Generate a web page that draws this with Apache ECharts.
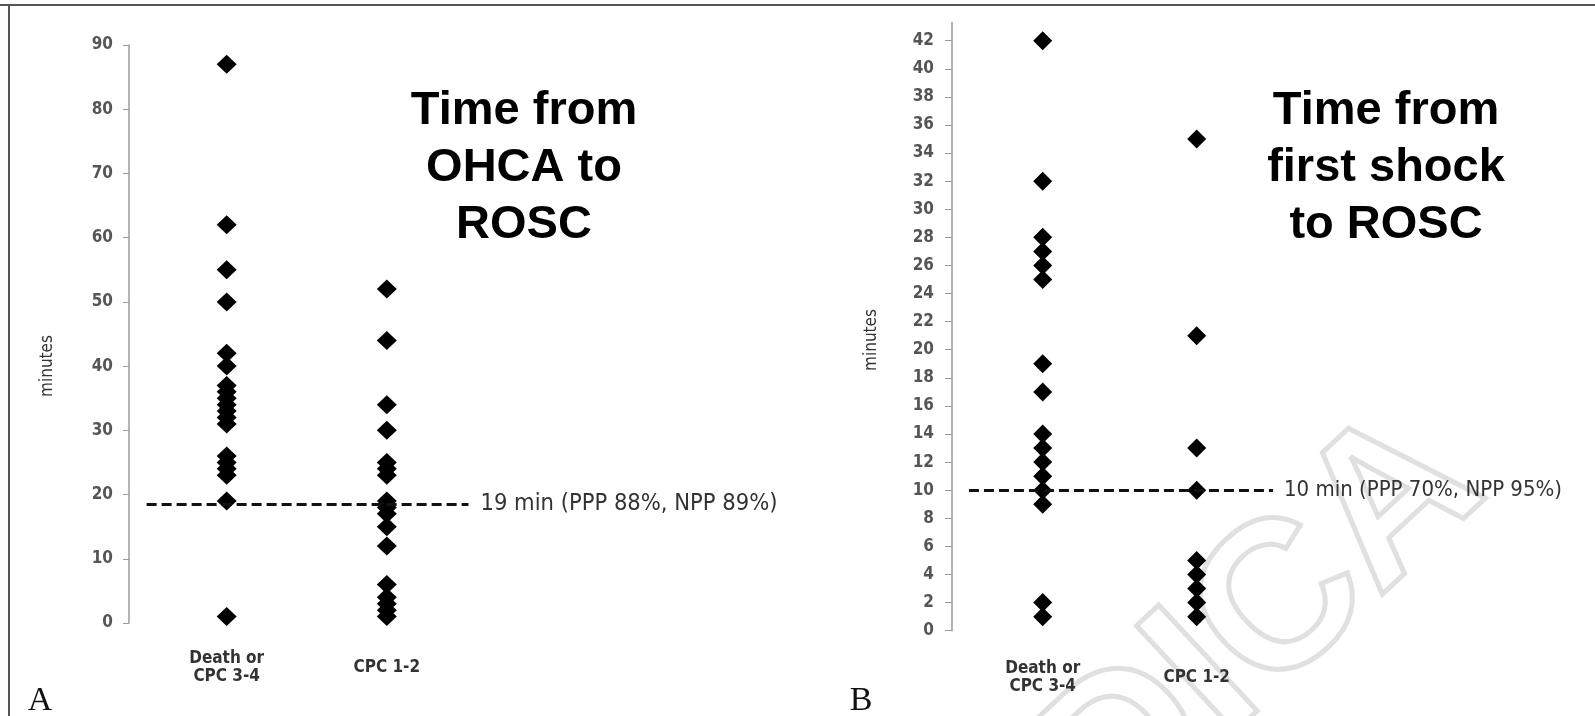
<!DOCTYPE html>
<html>
<head>
<meta charset="utf-8">
<script src="https://cdn.jsdelivr.net/npm/echarts@6/dist/echarts.min.js"></script>
<style>
  html, body { margin: 0; padding: 0; background: #fff; }
  #main { width: 1595px; height: 716px; }
</style>
</head>
<body>
<div id="main"></div>
<script>
// categories (x) for both panels
const categories = ['Death or\nCPC 3-4', 'CPC 1-2'];

// panel A: time from OHCA to ROSC (minutes)
const deathA = [87, 62, 55, 50, 42, 40, 37, 36, 35, 34, 33, 32, 31, 26, 25, 24, 23, 19, 1];
const cpcA = [52, 44, 34, 30, 25, 24, 23, 19, 18, 17, 15, 12, 6, 4, 3, 2, 1];
const cutA = 18.5;
const cutLabelA = '19 min (PPP 88%, NPP 89%)';

// panel B: time from first shock to ROSC (minutes)
const deathB = [42, 32, 28, 27, 26, 25, 19, 17, 14, 13, 12, 11, 10, 9, 2, 1];
const cpcB = [35, 21, 13, 10, 5, 4, 3, 2, 1];
const cutB = 10;
const cutLabelB = '10 min (PPP 70%, NPP 95%)';
const ticksB = [0, 2, 4, 6, 8, 10, 12, 14, 16, 18, 20, 22, 24, 26, 28, 30, 32, 34, 36, 38, 40, 42];

const narrow = "'Liberation Sans Narrow', 'DejaVu Sans Condensed', sans-serif";

const toPts = (arr, x) => arr.map(v => [x, v]);

const catLabel = {
  customValues: [1, 2],
  formatter: v => categories[Math.round(v) - 1] || '',
  fontFamily: narrow,
  fontSize: 17,
  fontWeight: 'bold',
  color: '#333',
  lineHeight: 18,
  verticalAlign: 'middle'
};

const yLabel = {
  fontFamily: narrow,
  fontSize: 17,
  fontWeight: 'bold',
  color: '#555'
};

const dotStyle = { color: '#000', opacity: 1 };

const cutLine = (from, to, y, text, dist, size) => ({
  silent: true,
  symbol: ['none', 'none'],
  lineStyle: { color: '#111', width: 3, type: [10, 5] },
  label: {
    show: true,
    position: 'end',
    distance: dist,
    formatter: text,
    fontFamily: narrow,
    fontSize: size,
    color: '#333',
    padding: [0, 0, 8, 0]
  },
  data: [[{ coord: [from, y] }, { coord: [to, y] }]]
});

let chart = echarts.init(document.getElementById('main'));

let option = {
  backgroundColor: '#fff',
  animation: false,
  grid: [
    { left: 129, top: 45, width: 498, height: 578 },
    { left: 952, top: 22.4, width: 600, height: 608.3 }
  ],
  xAxis: [
    {
      gridIndex: 0, type: 'value', min: 0.39, max: 3.5,
      axisLine: { show: false }, axisTick: { show: false }, splitLine: { show: false },
      axisLabel: Object.assign({ margin: 45 }, catLabel)
    },
    {
      gridIndex: 1, type: 'value', min: 0.411, max: 4.307,
      axisLine: { show: false }, axisTick: { show: false }, splitLine: { show: false },
      axisLabel: Object.assign({ margin: 47 }, catLabel)
    }
  ],
  yAxis: [
    {
      gridIndex: 0, type: 'value', min: 0, max: 90, interval: 10,
      axisLine: { show: true, lineStyle: { color: '#9a9a9a', width: 1.5 } },
      axisTick: { show: true, length: 6, lineStyle: { color: '#9a9a9a' } },
      splitLine: { show: false },
      axisLabel: Object.assign({ margin: 16 }, yLabel)
    },
    {
      gridIndex: 1, type: 'value', min: 0, max: 43.3, interval: 2,
      axisLine: { show: true, lineStyle: { color: '#9a9a9a', width: 1.5 } },
      axisTick: { show: true, length: 7, customValues: ticksB, lineStyle: { color: '#9a9a9a' } },
      splitLine: { show: false },
      axisLabel: Object.assign({ margin: 18, customValues: ticksB }, yLabel)
    }
  ],
  series: [
    {
      type: 'scatter', xAxisIndex: 0, yAxisIndex: 0, symbol: 'diamond', symbolSize: [20, 19],
      itemStyle: dotStyle, data: toPts(deathA, 1),
      markLine: cutLine(0.5, 2.51, cutA, cutLabelA, 12, 23.5)
    },
    {
      type: 'scatter', xAxisIndex: 0, yAxisIndex: 0, symbol: 'diamond', symbolSize: [20, 19],
      itemStyle: dotStyle, data: toPts(cpcA, 2)
    },
    {
      type: 'scatter', xAxisIndex: 1, yAxisIndex: 1, symbol: 'diamond', symbolSize: [19, 19],
      itemStyle: dotStyle, data: toPts(deathB, 1),
      markLine: cutLine(0.521, 2.495, cutB, cutLabelB, 11, 22)
    },
    {
      type: 'scatter', xAxisIndex: 1, yAxisIndex: 1, symbol: 'diamond', symbolSize: [19, 19],
      itemStyle: dotStyle, data: toPts(cpcB, 2)
    }
  ],
  graphic: [
    // watermark
    {
      type: 'text', x: 1450, y: 452, rotation: 0.75, z: -10, silent: true,
      style: {
        text: 'MEDICA', fontSize: 210, fontWeight: 'bold', fontFamily: "'Liberation Sans', Arial, sans-serif",
        fill: 'rgba(0,0,0,0)', stroke: '#e0e0e0', lineWidth: 5, align: 'right', verticalAlign: 'middle'
      }
    },
    // frame
    { type: 'line', shape: { x1: 0, y1: 5, x2: 1595, y2: 5 }, style: { stroke: '#555', lineWidth: 2 } },
    { type: 'line', shape: { x1: 9, y1: 5, x2: 9, y2: 716 }, style: { stroke: '#555', lineWidth: 2 } },
    // panel titles
    {
      type: 'text', x: 524, y: 168,
      style: {
        text: 'Time from\nOHCA to\nROSC', fontSize: 47, fontWeight: 'bold',
        fontFamily: "'Liberation Sans', Arial, sans-serif", lineHeight: 57,
        fill: '#000', align: 'center', verticalAlign: 'middle'
      }
    },
    {
      type: 'text', x: 1386, y: 168,
      style: {
        text: 'Time from\nfirst shock\nto ROSC', fontSize: 47, fontWeight: 'bold',
        fontFamily: "'Liberation Sans', Arial, sans-serif", lineHeight: 57,
        fill: '#000', align: 'center', verticalAlign: 'middle'
      }
    },
    // y axis names
    {
      type: 'text', x: 48, y: 366, rotation: Math.PI / 2,
      style: { text: 'minutes', fontSize: 17, fontFamily: narrow, fill: '#333', align: 'center', verticalAlign: 'middle' }
    },
    {
      type: 'text', x: 872, y: 340, rotation: Math.PI / 2,
      style: { text: 'minutes', fontSize: 17, fontFamily: narrow, fill: '#333', align: 'center', verticalAlign: 'middle' }
    },
    // panel letters
    {
      type: 'text', x: 40, y: 701,
      style: { text: 'A', fontSize: 34, fontFamily: "'Liberation Serif', 'DejaVu Serif', serif", fill: '#111', align: 'center', verticalAlign: 'middle' }
    },
    {
      type: 'text', x: 861, y: 701,
      style: { text: 'B', fontSize: 34, fontFamily: "'Liberation Serif', 'DejaVu Serif', serif", fill: '#111', align: 'center', verticalAlign: 'middle' }
    }
  ]
};

chart.setOption(option);
</script>
</body>
</html>
